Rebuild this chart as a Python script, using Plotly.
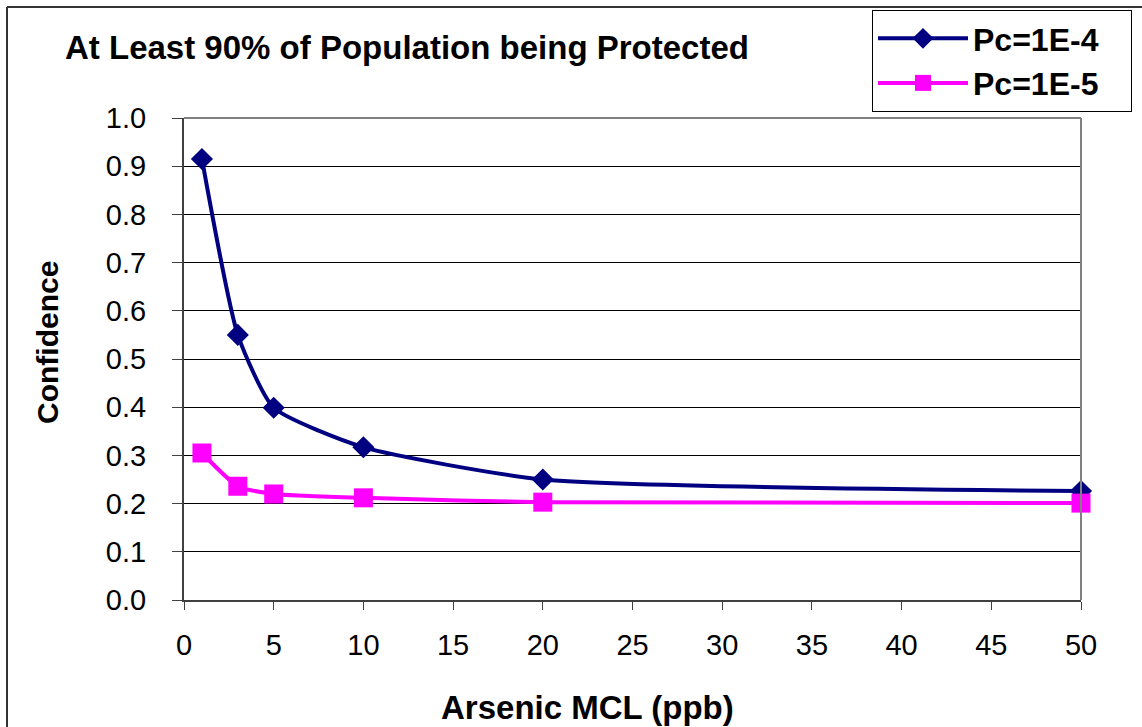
import plotly.graph_objects as go

mcl = [1, 3, 5, 10, 20, 50]
pc_1e4 = [0.915, 0.550, 0.399, 0.317, 0.250, 0.226]
pc_1e5 = [0.305, 0.236, 0.220, 0.212, 0.203, 0.201]
x_ticks = [0, 5, 10, 15, 20, 25, 30, 35, 40, 45, 50]
y_ticks = [0.0, 0.1, 0.2, 0.3, 0.4, 0.5, 0.6, 0.7, 0.8, 0.9, 1.0]
series_names = ["Pc=1E-4", "Pc=1E-5"]

W, H = 1142, 727
L, R, T, B = 184, 1081, 118, 600
pw, ph = R - L, B - T

def px(xp):
    return (xp - L) / pw

def py(yp):
    return (B - yp) / ph

FONT = "Liberation Sans, Arial, sans-serif"
BOLD = 33
TICK = 29
PAD = "\u00a0\u00a0\u00a0"

fig = go.Figure()
fig.add_trace(go.Scatter(
    x=mcl, y=pc_1e4, name=series_names[0] + PAD, mode="lines+markers", cliponaxis=False,
    line=dict(color="#000080", width=4, shape="spline", smoothing=0.55),
    marker=dict(symbol="diamond", size=17, color="#000080"),
))
fig.add_trace(go.Scatter(
    x=mcl, y=pc_1e5, name=series_names[1] + PAD, mode="lines+markers", cliponaxis=False,
    line=dict(color="#FF00FF", width=4, shape="spline", smoothing=0.55),
    marker=dict(symbol="square", size=19, color="#FF00FF"),
))

fig.update_layout(
    width=W, height=H,
    margin=dict(l=L, r=W - R, t=T, b=H - B, autoexpand=False),
    paper_bgcolor="white", plot_bgcolor="white",
    font=dict(family=FONT, color="black", size=TICK),
    showlegend=True,
    legend=dict(
        x=px(872), y=py(10), xanchor="left", yanchor="top",
        bordercolor="black", borderwidth=1, bgcolor="white",
        font=dict(family=FONT, size=32, color="black", weight="bold"),
        itemwidth=90, tracegroupgap=0,
    ),
    xaxis=dict(
        range=[0, 50], tickvals=x_ticks, ticktext=[str(v) for v in x_ticks],
        showgrid=False, zeroline=False, showline=True, linecolor="#404040", linewidth=2,
        ticks="outside", ticklen=8, tickcolor="#404040", tickwidth=1,
        tickfont=dict(family=FONT, size=TICK, color="black"),
        ticklabelstandoff=10,
    ),
    yaxis=dict(
        range=[0, 1], tickvals=y_ticks, ticktext=[f"{v:.1f}" for v in y_ticks],
        showgrid=True, gridcolor="black", gridwidth=1, zeroline=False,
        showline=True, linecolor="#404040", linewidth=2,
        ticks="outside", ticklen=10, tickcolor="#404040", tickwidth=1,
        tickfont=dict(family=FONT, size=TICK, color="black"),
        ticklabelstandoff=20,
    ),
    shapes=[
        dict(type="line", xref="paper", yref="paper", x0=0, x1=1, y0=1, y1=1,
             line=dict(color="#808080", width=2)),
        dict(type="line", xref="paper", yref="paper", x0=1, x1=1, y0=0, y1=1,
             line=dict(color="#808080", width=2)),
        dict(type="line", xref="paper", yref="paper", x0=px(7), x1=px(W + 5), y0=py(7), y1=py(7),
             line=dict(color="#333333", width=2)),
        dict(type="line", xref="paper", yref="paper", x0=px(7), x1=px(7), y0=py(7), y1=py(H + 5),
             line=dict(color="#333333", width=2)),
    ],
    annotations=[
        dict(text="<b>At Least 90% of Population being Protected</b>", xref="paper", yref="paper",
             x=px(63), y=py(47), xanchor="left", yanchor="middle", showarrow=False,
             font=dict(family=FONT, size=BOLD, color="black")),
        dict(text="<b>Arsenic MCL (ppb)</b>", xref="paper", yref="paper",
             x=px(587), y=py(707), xanchor="center", yanchor="middle", showarrow=False,
             font=dict(family=FONT, size=BOLD, color="black")),
        dict(text="<b>Confidence</b>", xref="paper", yref="paper", textangle=-90,
             x=px(47), y=py(343), xanchor="center", yanchor="middle", showarrow=False,
             font=dict(family=FONT, size=30, color="black")),
    ],
)

fig.write_html("out.html")
